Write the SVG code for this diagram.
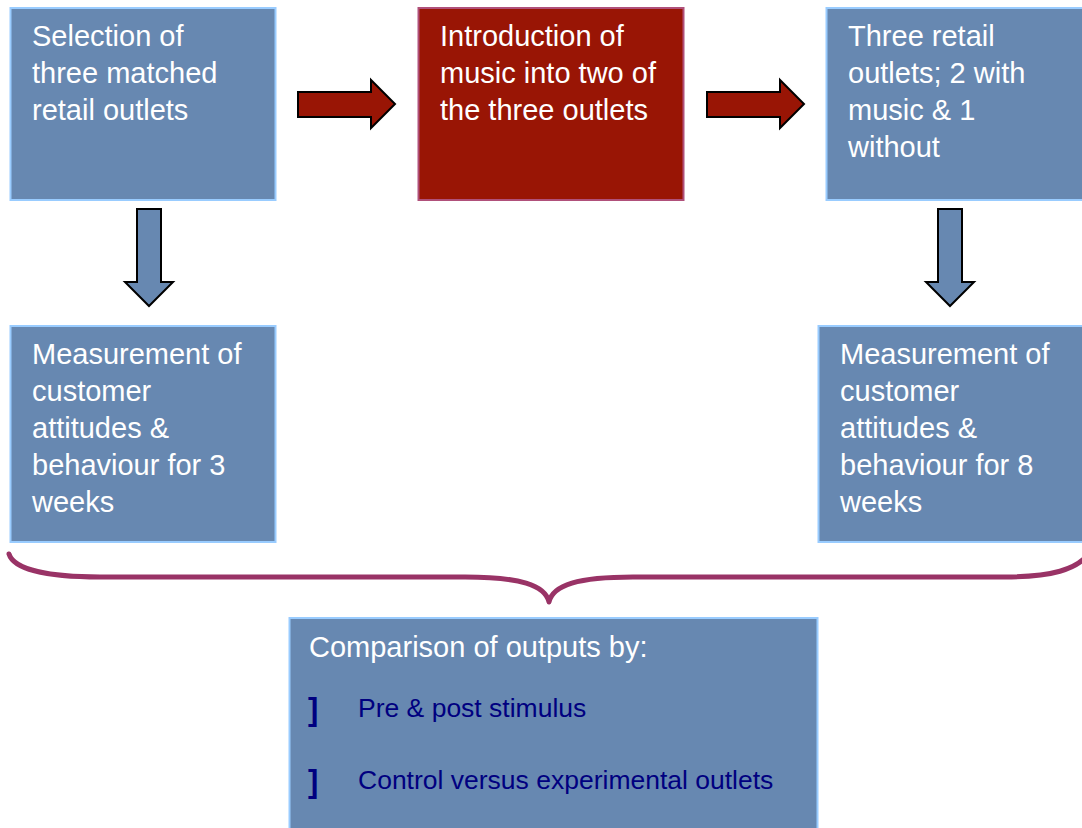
<svg xmlns="http://www.w3.org/2000/svg" width="1082" height="828" viewBox="0 0 1082 828">
  <style>
    .box { fill: #6788b1; stroke: #99ccff; stroke-width: 2; }
    .redbox { fill: #991505; stroke: #b0507a; stroke-width: 2; }
    .t { font-family: "Liberation Sans", Arial, sans-serif; font-size: 29px; fill: #ffffff; }
    .sub { font-family: "Liberation Sans", Arial, sans-serif; font-size: 26.5px; fill: #000080; }
    .bul { font-family: "Liberation Sans", Arial, sans-serif; font-size: 31px; font-weight: bold; fill: #000080; }
    .rarrow { fill: #991505; stroke: #000000; stroke-width: 2; stroke-linejoin: miter; }
    .darrow { fill: #6788b1; stroke: #000000; stroke-width: 2; stroke-linejoin: miter; }
    .brace { fill: none; stroke: #993366; stroke-width: 5; stroke-linecap: round; stroke-linejoin: round; }
  </style>

  <rect width="1082" height="828" fill="#ffffff"/>

  <g id="selection">
    <rect class="box" x="10.5" y="8" width="265" height="192"/>
    <text class="t" x="32" y="46">Selection of</text>
    <text class="t" x="32" y="83">three matched</text>
    <text class="t" x="32" y="120">retail outlets</text>
  </g>

  <g id="introduction">
    <rect class="redbox" x="418.5" y="8" width="265" height="192"/>
    <text class="t" x="440" y="46">Introduction of</text>
    <text class="t" x="440" y="83">music into two of</text>
    <text class="t" x="440" y="120">the three outlets</text>
  </g>

  <g id="three-outlets">
    <rect class="box" x="826.5" y="8" width="265" height="192"/>
    <text class="t" x="848" y="46">Three retail</text>
    <text class="t" x="848" y="83">outlets; 2 with</text>
    <text class="t" x="848" y="120">music &amp; 1</text>
    <text class="t" x="848" y="157">without</text>
  </g>

  <g id="measure-pre">
    <rect class="box" x="10.5" y="326" width="265" height="216"/>
    <text class="t" x="32" y="364">Measurement of</text>
    <text class="t" x="32" y="401">customer</text>
    <text class="t" x="32" y="438">attitudes &amp;</text>
    <text class="t" x="32" y="475">behaviour for 3</text>
    <text class="t" x="32" y="512">weeks</text>
  </g>

  <g id="measure-post">
    <rect class="box" x="818.5" y="326" width="265" height="216"/>
    <text class="t" x="840" y="364">Measurement of</text>
    <text class="t" x="840" y="401">customer</text>
    <text class="t" x="840" y="438">attitudes &amp;</text>
    <text class="t" x="840" y="475">behaviour for 8</text>
    <text class="t" x="840" y="512">weeks</text>
  </g>

  <g id="comparison">
    <rect class="box" x="289.5" y="618" width="528" height="220"/>
    <text class="t" x="309" y="657">Comparison of outputs by:</text>
    <text class="bul" x="308" y="720">]</text>
    <text class="sub" x="358" y="717">Pre &amp; post stimulus</text>
    <text class="bul" x="308" y="792">]</text>
    <text class="sub" x="358" y="789">Control versus experimental outlets</text>
  </g>

  <g id="connectors">
    <!-- block arrows between the top row -->
    <path class="rarrow" d="M298,92 H371 V80 L395,104 L371,128 V117 H298 Z"/>
    <path class="rarrow" d="M707,92 H780 V80 L804,104 L780,128 V117 H707 Z"/>
    <!-- block arrows down to the measurement boxes -->
    <path class="darrow" d="M137,209 H161 V282 H173 L149,306 L125,282 H137 Z"/>
    <path class="darrow" d="M938,209 H962 V282 H974 L950,306 L926,282 H938 Z"/>
    <!-- brace gathering both measurements -->
    <path class="brace" d="M9,554 C14,570 50,577 100,577 H465 C520,577 545,585 549,602 C553,585 578,577 633,577 H1005 C1050,577 1078,570 1090,552"/>
  </g>
</svg>
